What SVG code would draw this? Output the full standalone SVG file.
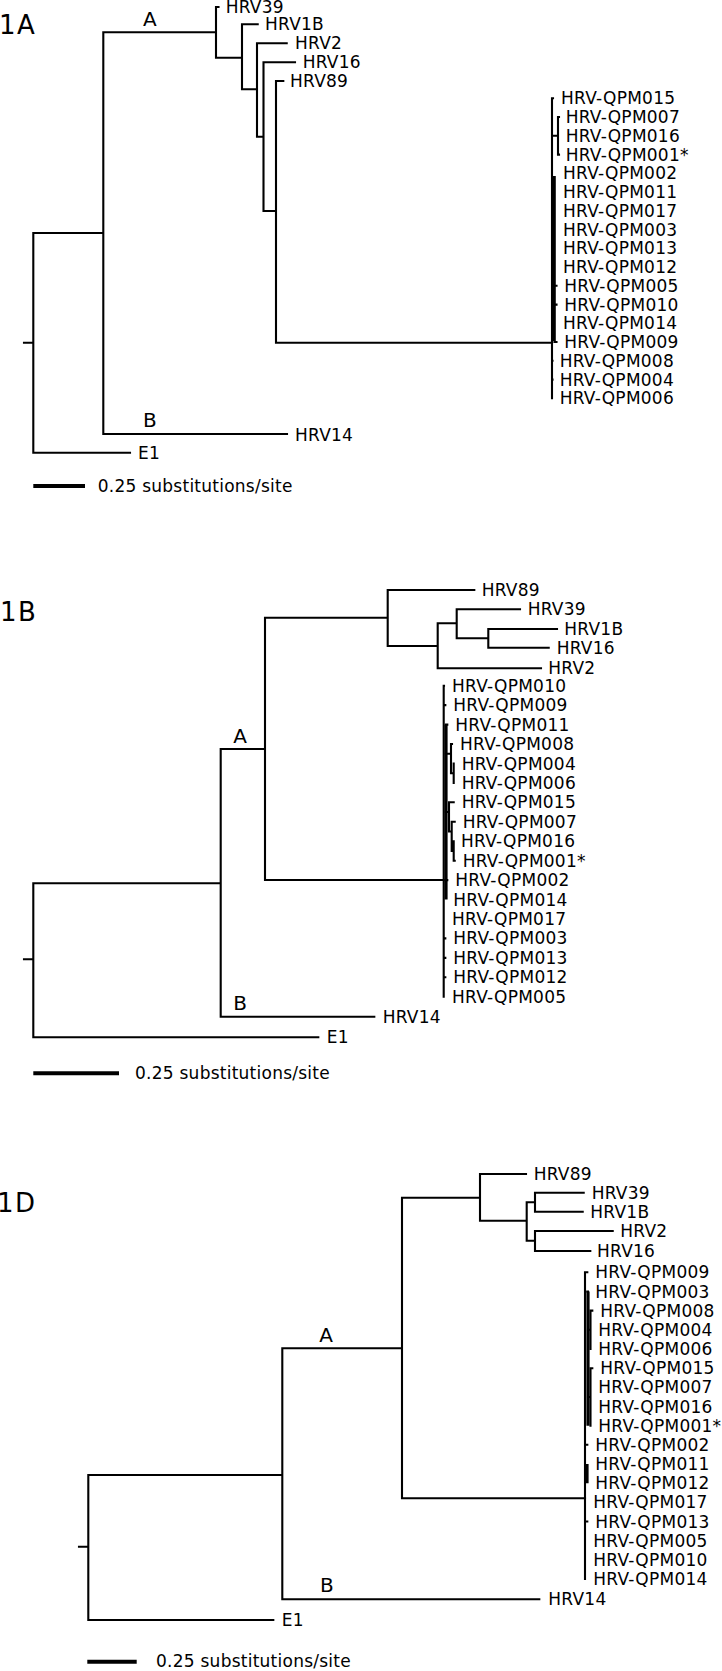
<svg xmlns="http://www.w3.org/2000/svg" width="722" height="1671" viewBox="0 0 722 1671">
<style>
text{font-family:"DejaVu Sans",Verdana,sans-serif;fill:#000}
.lf{font-size:17px;letter-spacing:0.25px}
.cl{font-size:20px}
.pn{font-size:26px;letter-spacing:1.5px}
.br{fill:none;stroke:#000;stroke-width:2.1;stroke-linecap:square}
.th{fill:none;stroke:#000;stroke-width:3.2}
.sb{fill:none;stroke:#000;stroke-width:4}
</style>
<rect width="722" height="1671" fill="#fff"/>

<!-- Panel 1A -->
<g id="panel-1A">
<text id="lbl-1A" class="pn" x="-1" y="34">1A</text>
<g id="connectors-1A">
<path class="br" d="M24,342.7H33.3M33.3,233V452.7M33.3,452.7H130M33.3,233H103.3M103.3,32.3V434M103.3,434H287M103.3,32.3H216M216,7V57.7M216,7H218.5M216,57.7H242M242,24.3V89.3M242,24.3H257.7M242,89.3H257M257,43.3V136.7M257,43.3H286.7M257,136.7H263.5M263.5,62.3V211M263.5,62.3H295M263.5,211H276M276,81V342.7M276,81H283.3M276,342.7H552"/>
<path class="br" d="M552,98.3V398.3M552,98.3H553M552,360.8H552.5M552,379.6H552.5M552,135.8H558M558,117V154.6M558,117H559M558,154.6H559M554.5,285.8H556.5M554.5,304.6H556.5M554.5,342H556.5"/>
<path class="th" d="M554.2,176V341"/>
</g>
<g id="n1A-HRV39"><text class="lf" x="225.7" y="13.3">HRV39</text></g>
<g id="n1A-HRV1B"><text class="lf" x="265" y="30">HRV1B</text></g>
<g id="n1A-HRV2"><text class="lf" x="295" y="49">HRV2</text></g>
<g id="n1A-HRV16"><text class="lf" x="302.7" y="68.3">HRV16</text></g>
<g id="n1A-HRV89"><text class="lf" x="290" y="87.3">HRV89</text></g>
<g id="n1A-QPM015"><text class="lf" x="561" y="104.3">HRV-QPM015</text></g>
<g id="n1A-QPM007"><text class="lf" x="565.7" y="123">HRV-QPM007</text></g>
<g id="n1A-QPM016"><text class="lf" x="565.7" y="141.8">HRV-QPM016</text></g>
<g id="n1A-QPM001"><text class="lf" x="565.7" y="160.6">HRV-QPM001*</text></g>
<g id="n1A-QPM002"><text class="lf" x="563" y="179.3">HRV-QPM002</text></g>
<g id="n1A-QPM011"><text class="lf" x="563" y="198">HRV-QPM011</text></g>
<g id="n1A-QPM017"><text class="lf" x="563" y="216.8">HRV-QPM017</text></g>
<g id="n1A-QPM003"><text class="lf" x="563" y="235.6">HRV-QPM003</text></g>
<g id="n1A-QPM013"><text class="lf" x="563" y="254.3">HRV-QPM013</text></g>
<g id="n1A-QPM012"><text class="lf" x="563" y="273">HRV-QPM012</text></g>
<g id="n1A-QPM005"><text class="lf" x="564.3" y="291.8">HRV-QPM005</text></g>
<g id="n1A-QPM010"><text class="lf" x="564.3" y="310.6">HRV-QPM010</text></g>
<g id="n1A-QPM014"><text class="lf" x="563" y="329.3">HRV-QPM014</text></g>
<g id="n1A-QPM009"><text class="lf" x="564.3" y="348">HRV-QPM009</text></g>
<g id="n1A-QPM008"><text class="lf" x="559.7" y="366.8">HRV-QPM008</text></g>
<g id="n1A-QPM004"><text class="lf" x="559.7" y="385.6">HRV-QPM004</text></g>
<g id="n1A-QPM006"><text class="lf" x="559.7" y="404.3">HRV-QPM006</text></g>
<g id="n1A-HRV14"><text class="lf" x="295" y="440.5">HRV14</text></g>
<g id="n1A-E1"><text class="lf" x="138" y="459">E1</text></g>
<g id="c1A-A"><text class="cl" x="143" y="26">A</text></g>
<g id="c1A-B"><text class="cl" x="143" y="427">B</text></g>
<g id="scale-1A"><path class="sb" d="M33.3,486H85"/><text class="lf" x="97.7" y="491.5">0.25 substitutions/site</text></g>
</g>

<!-- Panel 1B -->
<g id="panel-1B">
<text id="lbl-1B" class="pn" x="0" y="620.7">1B</text>
<g id="connectors-1B">
<path class="br" d="M24,959.3H33.3M33.3,883.3V1037.3M33.3,1037.3H318.3M33.3,883.3H220.7M220.7,749V1016.7M220.7,1016.7H374.3M220.7,749H265M265,617.7V880M265,617.7H387.7M265,880H443.7M387.7,590V646M387.7,590H474.3M387.7,646H437.7M437.7,623.3V668.3M437.7,668.3H541M437.7,623.3H456.7M456.7,609.3V638.3M456.7,609.3H520M456.7,638.3H488.3M488.3,629V647.7M488.3,629H557M488.3,647.7H548.7"/>
<path class="br" d="M443.7,685.7V996.7M443.7,685.7H444M443.7,705.1H445.3M446,724.6H447.3M446,753.7H451M451,744V773.2M451,744H452M451,773.2H453.7M453.7,763.5V782.9M446,812H449M449,802.3V831.5M449,802.3H453.7M449,831.5H451.7M451.7,821.8V851M451.7,821.8H454.7M451.7,851H453.7M453.7,841.2V860.7M453.7,860.7H454.7M446,880.1H447.3M443.7,938.4H445.3M443.7,957.9H445.3M443.7,977.3H445.3"/>
<path class="th" d="M446,724.6V899.5"/>
</g>
<g id="n1B-HRV89"><text class="lf" x="481.7" y="596">HRV89</text></g>
<g id="n1B-HRV39"><text class="lf" x="527.7" y="615.3">HRV39</text></g>
<g id="n1B-HRV1B"><text class="lf" x="564.3" y="635">HRV1B</text></g>
<g id="n1B-HRV16"><text class="lf" x="556.7" y="653.7">HRV16</text></g>
<g id="n1B-HRV2"><text class="lf" x="548.3" y="674.3">HRV2</text></g>
<g id="n1B-QPM010"><text class="lf" x="452" y="691.7">HRV-QPM010</text></g>
<g id="n1B-QPM009"><text class="lf" x="453.3" y="711.1">HRV-QPM009</text></g>
<g id="n1B-QPM011"><text class="lf" x="455.3" y="730.6">HRV-QPM011</text></g>
<g id="n1B-QPM008"><text class="lf" x="460" y="750">HRV-QPM008</text></g>
<g id="n1B-QPM004"><text class="lf" x="461.7" y="769.5">HRV-QPM004</text></g>
<g id="n1B-QPM006"><text class="lf" x="461.7" y="788.9">HRV-QPM006</text></g>
<g id="n1B-QPM015"><text class="lf" x="461.7" y="808.3">HRV-QPM015</text></g>
<g id="n1B-QPM007"><text class="lf" x="462.7" y="827.8">HRV-QPM007</text></g>
<g id="n1B-QPM016"><text class="lf" x="461" y="847.2">HRV-QPM016</text></g>
<g id="n1B-QPM001"><text class="lf" x="462.7" y="866.7">HRV-QPM001*</text></g>
<g id="n1B-QPM002"><text class="lf" x="455.3" y="886.1">HRV-QPM002</text></g>
<g id="n1B-QPM014"><text class="lf" x="453.3" y="905.5">HRV-QPM014</text></g>
<g id="n1B-QPM017"><text class="lf" x="452" y="925">HRV-QPM017</text></g>
<g id="n1B-QPM003"><text class="lf" x="453.3" y="944.4">HRV-QPM003</text></g>
<g id="n1B-QPM013"><text class="lf" x="453.3" y="963.9">HRV-QPM013</text></g>
<g id="n1B-QPM012"><text class="lf" x="453.3" y="983.3">HRV-QPM012</text></g>
<g id="n1B-QPM005"><text class="lf" x="452" y="1002.7">HRV-QPM005</text></g>
<g id="n1B-HRV14"><text class="lf" x="382.7" y="1022.7">HRV14</text></g>
<g id="n1B-E1"><text class="lf" x="326.7" y="1043.3">E1</text></g>
<g id="c1B-A"><text class="cl" x="233.3" y="742.7">A</text></g>
<g id="c1B-B"><text class="cl" x="233.3" y="1010">B</text></g>
<g id="scale-1B"><path class="sb" d="M33.3,1073.3H119"/><text class="lf" x="135" y="1079.3">0.25 substitutions/site</text></g>
</g>

<!-- Panel 1D -->
<g id="panel-1D">
<text id="lbl-1D" class="pn" x="-3" y="1211.7">1D</text>
<g id="connectors-1D">
<path class="br" d="M79,1546.7H88.3M88.3,1475V1620M88.3,1620H273.3M88.3,1475H282.3M282.3,1348.3V1599.3M282.3,1599.3H539.3M282.3,1348.3H402M402,1197.7V1498.3M402,1498.3H585M402,1197.7H480M480,1174V1220.7M480,1174H526M480,1220.7H526.7M526.7,1202.3V1240.7M526.7,1202.3H535M526.7,1240.7H535M535,1192.7V1211.7M535,1192.7H583.7M535,1211.7H582.7M535,1231V1251M535,1231H612.7M535,1251H590.3"/>
<path class="br" d="M585,1272.3V1579M585,1272.3H587.3M588,1291.5H587.3M588,1329.8H590.5M590.5,1310.6V1349M590.5,1310.6H592.3M588,1397H590.5M590.5,1368.2V1425.7M590.5,1368.2H592.3M585,1444.8H587.3M585,1521.5H587.3"/>
<path class="th" d="M588,1291.5V1425.7M587,1464V1483.2"/>
</g>
<g id="n1D-HRV89"><text class="lf" x="533.7" y="1180">HRV89</text></g>
<g id="n1D-HRV39"><text class="lf" x="591.7" y="1198.7">HRV39</text></g>
<g id="n1D-HRV1B"><text class="lf" x="590.3" y="1217.7">HRV1B</text></g>
<g id="n1D-HRV2"><text class="lf" x="620.3" y="1237">HRV2</text></g>
<g id="n1D-HRV16"><text class="lf" x="597" y="1257">HRV16</text></g>
<g id="n1D-QPM009"><text class="lf" x="595.3" y="1278.3">HRV-QPM009</text></g>
<g id="n1D-QPM003"><text class="lf" x="595.3" y="1297.5">HRV-QPM003</text></g>
<g id="n1D-QPM008"><text class="lf" x="600.3" y="1316.6">HRV-QPM008</text></g>
<g id="n1D-QPM004"><text class="lf" x="598.3" y="1335.8">HRV-QPM004</text></g>
<g id="n1D-QPM006"><text class="lf" x="598.3" y="1355">HRV-QPM006</text></g>
<g id="n1D-QPM015"><text class="lf" x="600.3" y="1374.2">HRV-QPM015</text></g>
<g id="n1D-QPM007"><text class="lf" x="598.3" y="1393.3">HRV-QPM007</text></g>
<g id="n1D-QPM016"><text class="lf" x="598.3" y="1412.5">HRV-QPM016</text></g>
<g id="n1D-QPM001"><text class="lf" x="598.3" y="1431.7">HRV-QPM001*</text></g>
<g id="n1D-QPM002"><text class="lf" x="595.3" y="1450.8">HRV-QPM002</text></g>
<g id="n1D-QPM011"><text class="lf" x="595.3" y="1470">HRV-QPM011</text></g>
<g id="n1D-QPM012"><text class="lf" x="595.3" y="1489.2">HRV-QPM012</text></g>
<g id="n1D-QPM017"><text class="lf" x="593.3" y="1508.3">HRV-QPM017</text></g>
<g id="n1D-QPM013"><text class="lf" x="595.3" y="1527.5">HRV-QPM013</text></g>
<g id="n1D-QPM005"><text class="lf" x="593.3" y="1546.7">HRV-QPM005</text></g>
<g id="n1D-QPM010"><text class="lf" x="593.3" y="1565.9">HRV-QPM010</text></g>
<g id="n1D-QPM014"><text class="lf" x="593.3" y="1585">HRV-QPM014</text></g>
<g id="n1D-HRV14"><text class="lf" x="548.3" y="1605.3">HRV14</text></g>
<g id="n1D-E1"><text class="lf" x="281.7" y="1626">E1</text></g>
<g id="c1D-A"><text class="cl" x="319.3" y="1341.7">A</text></g>
<g id="c1D-B"><text class="cl" x="320" y="1591.7">B</text></g>
<g id="scale-1D"><path class="sb" d="M87.3,1661.7H136.7"/><text class="lf" x="156" y="1667">0.25 substitutions/site</text></g>
</g>
</svg>
